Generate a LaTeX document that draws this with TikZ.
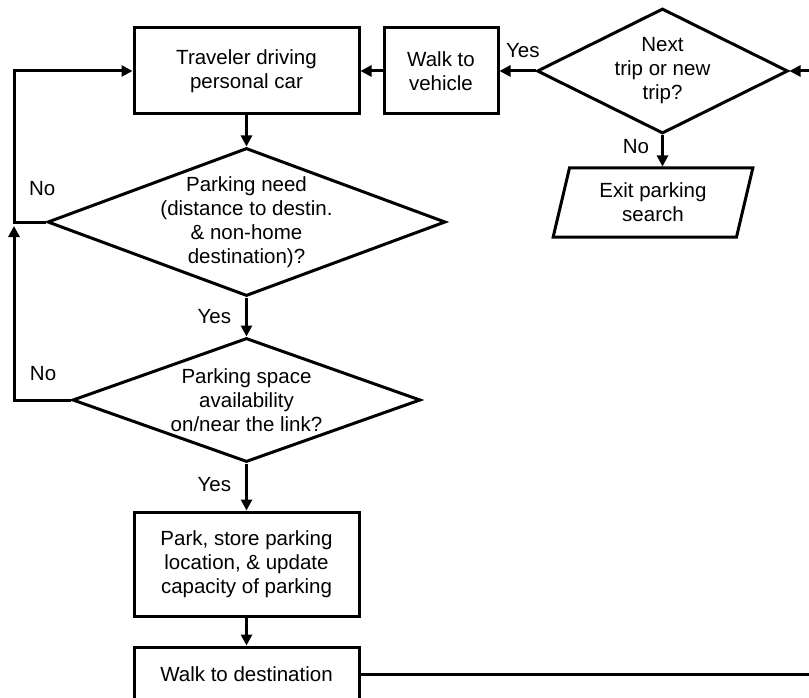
\documentclass[tikz,border=0pt]{standalone}
\usepackage{fontspec}
\setmainfont{Liberation Sans}
\usetikzlibrary{arrows.meta,shapes}
\tikzstyle{blk} = [rectangle, draw, align=center, inner sep=0pt]
\tikzstyle{decide} = [diamond, draw, inner sep=0pt]
\tikzstyle{io} = [trapezium, trapezium left angle=75, trapezium right angle=105,
    trapezium stretches=true, draw, align=center, inner sep=0pt]
\tikzstyle{dtext} = [align=center, inner sep=0pt]
\tikzstyle{lbl} = [inner sep=0pt]

\begin{document}
\begin{tikzpicture}[x=1pt,y=-1pt,line width=3pt,>={Triangle[length=11pt,width=11pt]},
                    font=\fontsize{20.5pt}{24pt}\selectfont]
  \useasboundingbox (0,0) rectangle (809,698);
  \clip (0,0) rectangle (809,698);

  \node[blk, minimum width=225pt, minimum height=86pt] (trav) at (246.5,71) {Traveler driving\\personal car};
  \node[blk, minimum width=114pt, minimum height=86pt] (walkv) [node distance=194.5pt, right of=trav] {Walk to\\vehicle};
  \node[decide, minimum width=251pt, minimum height=125pt,
        label={[dtext]center:Next\\trip or new\\trip?}] (next) [node distance=221.5pt, right of=walkv] {};
  \node[io, minimum width=200pt, minimum height=69pt] (exit) [node distance=131.5pt, below of=next, xshift=-9.5pt] {Exit parking\\search};
  \node[decide, minimum width=398pt, minimum height=148pt,
        label={[dtext]center:Parking need\\(distance to destin.\\\& non-home\\destination)?}] (need) [node distance=151pt, below of=trav] {};
  \node[decide, minimum width=348pt, minimum height=124pt,
        label={[dtext]center:Parking space\\availability\\on/near the link?}] (avail) [node distance=178pt, below of=need] {};
  \node[blk, minimum width=225pt, minimum height=104pt] (park) [node distance=164pt, below of=avail] {Park, store parking\\location, \& update\\capacity of parking};
  \node[blk, minimum width=225pt, minimum height=54pt] (walkd) [node distance=110pt, below of=park] {Walk to destination};

  \coordinate (jn) at (14,222);
  \coordinate[node distance=170pt, right of=next] (back);

  \draw[->] (walkv.west) -- (trav.east);
  \draw[->] (next.west) -- node[pos=0.35, above=12pt, lbl] {Yes} (walkv.east);
  \draw[->] (next.south) -- node[pos=0.37, left=12pt, lbl] {No} (next.south |- exit.north);
  \draw[->] (trav.south) -- (need.north);
  \draw[->] (need.south) -- node[left=14pt, lbl] {Yes} (avail.north);
  \draw[->] (avail.south) -- node[pos=0.44, left=14pt, lbl] {Yes} (park.north);
  \draw[->] (park.south) -- (walkd.north);
  \draw[->] (need.west) -- node[pos=0.12, above=25pt, lbl] {No} (jn) |- (trav.west);
  \draw[->, shorten >=4pt] (avail.west) -| node[pos=0.245, above=18pt, lbl] {No} (jn);
  \draw[->] (walkd.east) -| (back) -- (next.east);
\end{tikzpicture}
\end{document}
